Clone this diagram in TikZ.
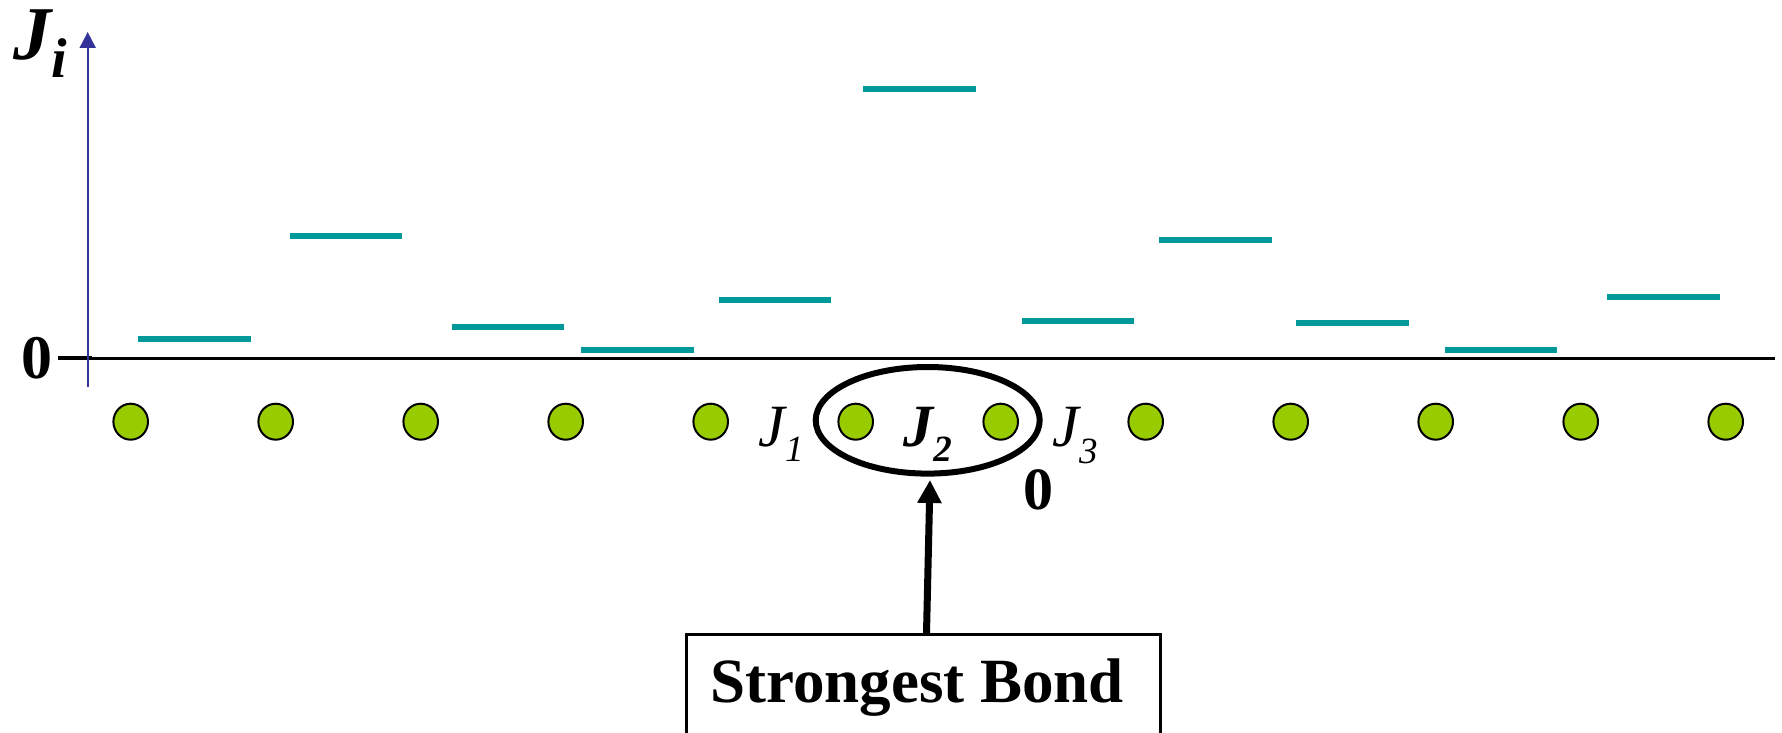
\documentclass[tikz,border=0pt]{standalone}
\usepackage{fontspec}
\setmainfont{Liberation Serif}
\usetikzlibrary{shapes.geometric,arrows.meta}
\definecolor{barteal}{RGB}{0,153,153}
\definecolor{dotgreen}{RGB}{153,204,0}
\definecolor{axisblue}{RGB}{51,51,153}
\begin{document}
\begin{tikzpicture}[x=0.5pt,y=-0.5pt,
  bar/.style={draw=barteal, line width=3pt},
  site/.style={ellipse, draw=black, line width=1pt, fill=dotgreen, minimum width=17.3pt, minimum height=18pt, inner sep=0pt},
  lbl/.style={inner sep=0pt, anchor=base west},
  jfont/.style={font=\fontsize{30}{32}\selectfont\itshape},
  jbfont/.style={font=\fontsize{30}{32}\selectfont\bfseries\itshape},
]
\clip (0,0) rectangle (1782,733);
\useasboundingbox (0,0) rectangle (1782,733);
% bars
\foreach \x/\y in {138.3/339.3, 290/236, 451.7/326.7, 581.3/350, 719/300, 863.3/89.3, 1022/320.7, 1159.3/240.3, 1296.3/323, 1445/349.5, 1607.3/297}
  \draw[bar] (\x,\y) -- ++(112.4,0);
% zero line
\draw[line width=1.25pt] (58,358.5) -- (1775,358.5);
\draw[line width=1.7pt] (58,357.5) -- (92,357.5);
% axis
\coordinate (ax0) at (87.7,387);
\coordinate (ax1) at (87.7,32);
\draw[axisblue, line width=1pt, -{Triangle[length=8pt,width=8pt]}] (ax0) -- (ax1);
% labels
\node[lbl, font=\fontsize{38}{40}\selectfont\bfseries\itshape] (Ji) at (13,60) {J\raisebox{-9pt}{\fontsize{28}{30}\selectfont i}};
\node[inner sep=0pt, font=\fontsize{31}{33}\selectfont\bfseries] (zeroL) at (37,358.5) {0};
% sites
\foreach \k in {0,...,11}
  \node[site] (s\k) at ({130.7+145*\k},421.7) {};
% ellipse
\node[ellipse, draw, line width=3pt, minimum width=112pt, minimum height=53.3pt, inner sep=0pt] (bond) at (927.7,420.3) {};
% bond labels
\node[lbl, jfont] (J1) at (758,446.7) {J\raisebox{-7.5pt}{\fontsize{18.5}{20}\selectfont 1}};
\node[lbl, jbfont] (J2) at (903,446.7) {J\raisebox{-7.5pt}{\fontsize{18.5}{20}\selectfont 2}};
\node[lbl, jfont] (J3) at (1052,446.7) {J\raisebox{-8.5pt}{\fontsize{18.5}{20}\selectfont 3}};
\node[inner sep=0pt, font=\fontsize{30}{32}\selectfont\bfseries] (zeroB) at (1038,490) {0};
% box
\node[draw, line width=1.5pt, anchor=north, minimum width=237pt, text height=20pt, text depth=40pt, inner ysep=13.75pt, font=\fontsize{31.5}{33}\selectfont\bfseries] (box) at (923,633) {\hspace*{-6pt}Strongest Bond};
\draw[line width=3.5pt, -{Triangle[length=11.5pt,width=11.5pt]}] ([xshift=1.75pt]box.north) -- ([xshift=1.15pt,yshift=-1.7pt]bond.south);
\end{tikzpicture}
\end{document}
